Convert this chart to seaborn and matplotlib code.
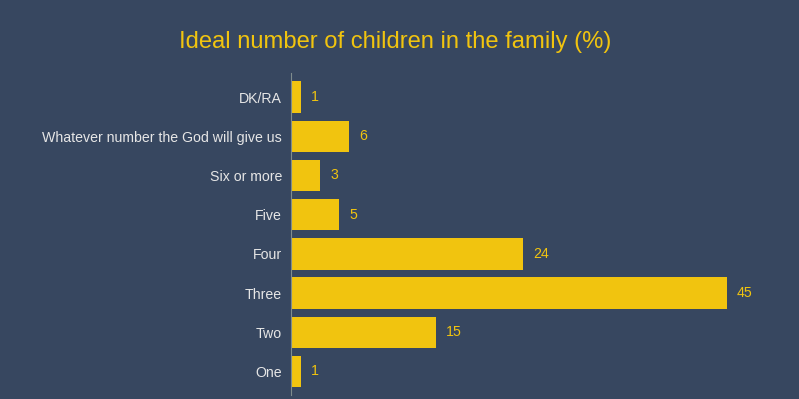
import matplotlib
matplotlib.use("Agg")
import matplotlib.pyplot as plt
import seaborn as sns
import pandas as pd

categories = ["DK/RA", "Whatever number the God will give us", "Six or more",
              "Five", "Four", "Three", "Two", "One"]
values = [1, 6, 3, 5, 24, 45, 15, 1]

bg = "#374760"
yellow = "#f1c40f"

sns.set_theme(style="white")
plt.rcParams["font.family"] = ["Liberation Sans", "DejaVu Sans"]

df = pd.DataFrame({"cat": categories, "val": values})

fig = plt.figure(figsize=(7.99, 3.99), dpi=100, facecolor=bg)
ax = fig.add_axes([291 / 799, (399 - 395) / 399, (775 - 291) / 799, (395 - 73.5) / 399])
ax.set_facecolor(bg)

sns.barplot(data=df, y="cat", x="val", color=yellow, saturation=1, width=0.8,
            linewidth=0, ax=ax)

for i, v in enumerate(values):
    ax.text(v + 1.05, i, str(v), color=yellow, fontsize=10.2, va="center", ha="left")

ax.set_xlim(0, 50)
ax.set_ylim(7.6, -0.6)
ax.set_xlabel("")
ax.set_ylabel("")
ax.set_xticks([])
ax.tick_params(axis="y", length=0, pad=6.5, labelsize=10.2, labelcolor="#e6e6e6")
for lbl in ax.get_yticklabels():
    lbl.set_va("center_baseline")
for s in ["top", "right", "bottom"]:
    ax.spines[s].set_visible(False)
ax.spines["left"].set_color("#7f8c8d")
ax.spines["left"].set_linewidth(0.8)

fig.text(395 / 799, 1 - 42 / 399, "Ideal number of children in the family (%)",
         color=yellow, fontsize=17.1, ha="center", va="center")

fig.savefig("out.png", dpi=100, facecolor=bg)
